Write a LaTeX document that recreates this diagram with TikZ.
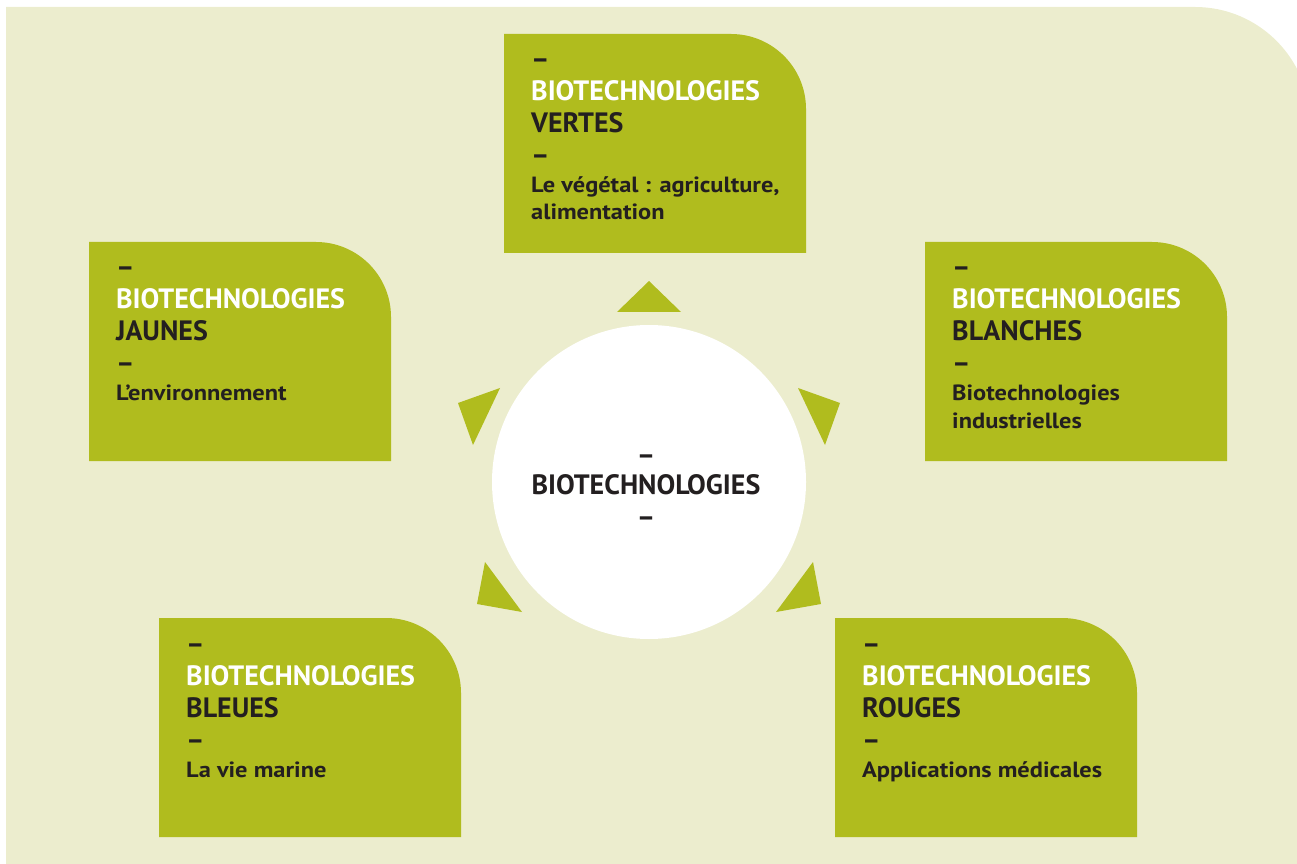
\documentclass[tikz,border=0pt]{standalone}
\usepackage{fontspec}
\setmainfont{PT Sans}
\newfontfamily\descfont[FakeStretch=1.11]{PT Sans}
\definecolor{bg}{RGB}{236,237,206}
\definecolor{leaf}{RGB}{176,188,30}
\definecolor{ink}{RGB}{35,31,32}
\tikzset{
  bigtxt/.style={anchor=base west,inner sep=0pt,font=\bfseries\fontsize{28}{28}\selectfont},
  smtxt/.style={anchor=base west,inner sep=0pt,text=ink,font=\descfont\bfseries\fontsize{22}{22}\selectfont},
  ctxt/.style={anchor=base,inner sep=0pt,text=ink,font=\bfseries\fontsize{28}{28}\selectfont},
  arrowtri/.style={fill=leaf},
}
\newcommand\bbox[6]{%
  \fill[leaf] (#2,#3) -- ++(227,0) arc[start angle=90,end angle=0,radius=75] -- ++(0,-144) -- ++(-302,0) -- cycle;
  \node[bigtxt,text=ink] (#1-d1) at (#2+27,#3-35) {–};
  \node[bigtxt,text=white] (#1-t) at (#2+27,#3-67) {BIOTECHNOLOGIES};
  \node[bigtxt,text=ink] (#1-w) at (#2+27,#3-99) {#4};
  \node[bigtxt,text=ink] (#1-d2) at (#2+27,#3-131) {–};
  \node[smtxt] (#1-a) at (#2+27,#3-159) {#5};
  \if\relax\detokenize{#6}\relax\else
  \node[smtxt] (#1-b) at (#2+27,#3-186) {#6};
  \fi
}
\begin{document}
\begin{tikzpicture}[x=1pt,y=1pt]
\useasboundingbox (0,0) rectangle (1297,863);
\clip (0,0) rectangle (1297,863);
\fill[bg] (6,-10) -- (6,856) -- (1195,856) arc[start angle=90,end angle=0,radius=115] -- (1310,-10) -- cycle;
\bbox{vert}{504}{829}{VERTES}{Le végétal : agriculture,}{alimentation}
\bbox{jaune}{89}{621}{JAUNES}{L’environnement}{}
\bbox{blanc}{925}{621}{BLANCHES}{Biotechnologies}{industrielles}
\bbox{bleu}{159}{245}{BLEUES}{La vie marine}{}
\bbox{rouge}{835}{245}{ROUGES}{Applications médicales}{}
\node[circle,fill=white,minimum size=314pt,inner sep=0pt] (core) at (649,381) {};
\node[ctxt] (core-d1) at (646,399) {–};
\node[ctxt] (core-t) at (646,369) {BIOTECHNOLOGIES};
\node[ctxt] (core-d2) at (646,337) {–};
\fill[arrowtri] (649,582) -- (617,551) -- (681,551) -- cycle;
\fill[arrowtri] (458,460) -- (500,475) -- (473,418) -- cycle;
\fill[arrowtri] (840,460) -- (798,475) -- (825,418) -- cycle;
\fill[arrowtri] (485,301) -- (477,259) -- (522,251) -- cycle;
\fill[arrowtri] (813,301) -- (821,259) -- (776,251) -- cycle;
\end{tikzpicture}
\end{document}
